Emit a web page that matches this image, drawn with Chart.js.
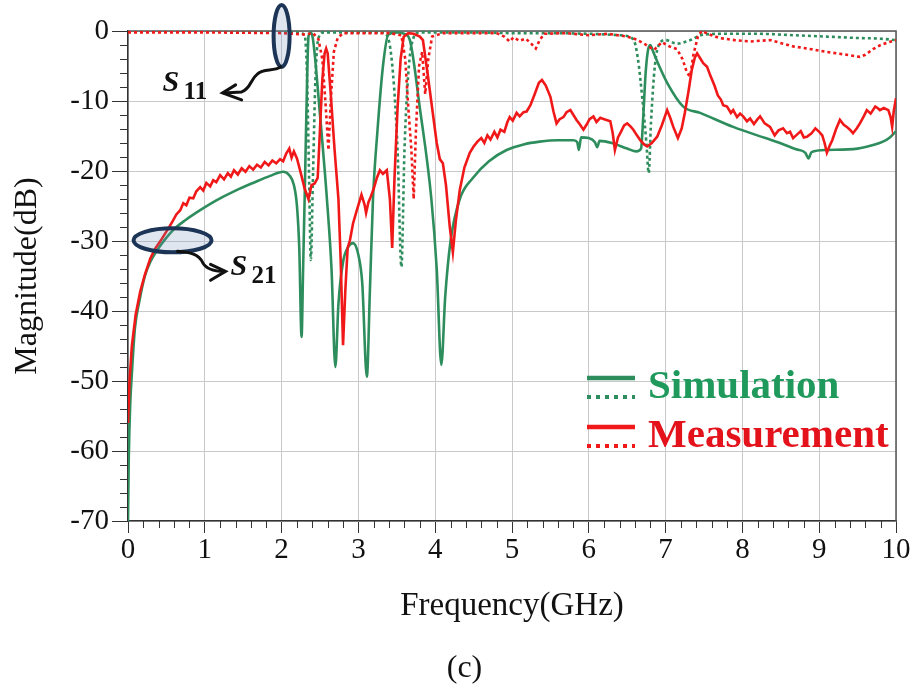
<!DOCTYPE html>
<html>
<head>
<meta charset="utf-8">
<script src="https://cdn.jsdelivr.net/npm/chart.js@4.4.1/dist/chart.umd.min.js"></script>
<style>
  html, body { margin: 0; padding: 0; background: #fff; }
  #wrap { position: relative; width: 917px; height: 696px; }
  #caption { position: absolute; left: 0; width: 929px; top: 648px; line-height: 32px;
             text-align: center; font: 32px "Liberation Serif", serif; color: #111; }
</style>
</head>
<body>
<div id="wrap">
  <canvas id="grafico"></canvas>
  <div id="caption">(c)</div>
</div>
<script>
// ---- data (GHz / dB) ----
const xTicks = [0, 1, 2, 3, 4, 5, 6, 7, 8, 9, 10];
const yTicks = [0, -10, -20, -30, -40, -50, -60, -70];

// S21 simulation (green solid)
const s21SimFreq = [0, 0.01, 0.03, 0.05, 0.09, 0.15, 0.22, 0.29, 0.38, 0.48, 0.6, 0.75, 0.94, 1.15, 1.4, 1.65, 1.85, 2.02,
  2.1, 2.16, 2.2, 2.23, 2.26, 2.28, 2.3, 2.33, 2.35, 2.38, 2.41, 2.5, 2.59, 2.65, 2.7, 2.74, 2.8, 2.87, 2.93, 3.0, 3.05,
  3.11, 3.15, 3.19, 3.25, 3.32, 3.39, 3.5, 3.6, 3.67, 3.8, 3.95, 4.02, 4.08, 4.13, 4.2, 4.32, 4.49, 4.7, 4.93, 5.15,
  5.36, 5.6, 5.8, 5.85, 5.87, 5.9, 6.0, 6.08, 6.11, 6.14, 6.3, 6.5, 6.62, 6.68, 6.71, 6.74, 6.77, 6.8, 6.84, 6.9, 7.02,
  7.23, 7.45, 7.88, 8.3, 8.49, 8.7, 8.82, 8.86, 8.9, 9.1, 9.5, 9.7, 9.83, 9.92, 10];
const s21SimDb = [-70, -61, -53, -49, -42.5, -38.5, -35, -33, -31.3, -29.8, -28.3, -27, -25.6, -24.2, -22.8, -21.6, -20.7, -20.1,
  -20.6, -22, -25, -31, -43.7, -34, -24, -8, -0.8, -0.2, -1.3, -12, -24, -34, -48, -39, -33, -30.8, -30.3, -32, -36,
  -49.4, -37, -24, -14, -5, -0.5, -0.2, -0.4, -1.3, -11, -24, -34, -47.7, -38, -30, -24, -21, -18.6, -17, -16.2,
  -15.8, -15.6, -15.6, -15.9, -17, -15.2, -15.3, -15.9, -16.6, -15.7, -16, -16.8, -17.2, -16.8, -12, -6, -2.8, -2, -3, -4.6, -7.4,
  -10.8, -11.7, -13.7, -15.3, -16, -16.9, -17.4, -18.2, -17.3, -17, -16.8, -16.3, -15.8, -15.2, -14.3];

// S11 simulation (green dotted)
const s11SimFreq = [0, 1.0, 2.2, 2.3, 2.33, 2.36, 2.38, 2.41, 2.44, 2.48, 2.55, 3.3, 3.38, 3.45, 3.51, 3.56, 3.6, 3.65,
  3.71, 3.8, 4.5, 5.0, 5.5, 6.0, 6.4, 6.58, 6.64, 6.7, 6.75, 6.78, 6.81, 6.86, 6.92, 7.0, 7.15, 7.3, 7.5, 7.8, 8.2,
  8.66, 9.1, 9.5, 9.8, 10];
const s11SimDb = [-0.1, -0.1, -0.2, -0.6, -6, -22, -32.7, -20, -7, -1, -0.2, -0.2, -0.8, -6, -17, -33.7, -17, -6,
  -1.2, -0.2, -0.2, -0.3, -0.3, -0.4, -0.6, -1.2, -4, -10, -16, -20.3, -13, -5, -1.8, -1.3, -1.8, -1.4, -0.5, -0.4, -0.4,
  -0.6, -0.8, -1, -1.1, -1.3];

// S21 measurement (red solid)
const s21MedFreq = [0, 0.02, 0.05, 0.1, 0.16, 0.22, 0.29, 0.36, 0.44, 0.52, 0.58, 0.63, 0.68, 0.72, 0.76, 0.8, 0.85, 0.89,
  0.94, 0.98, 1.02, 1.07, 1.11, 1.15, 1.2, 1.25, 1.3, 1.34, 1.38, 1.43, 1.48, 1.53, 1.58, 1.63, 1.68, 1.73, 1.78, 1.83,
  1.88, 1.93, 1.98, 2.02, 2.06, 2.1, 2.13, 2.16, 2.2, 2.25, 2.3, 2.35, 2.39, 2.43, 2.47, 2.5, 2.53, 2.56, 2.58, 2.6,
  2.64, 2.69, 2.74, 2.77, 2.8, 2.83, 2.86, 2.89, 2.93, 2.98, 3.04, 3.08, 3.1, 3.13, 3.16, 3.2, 3.24, 3.28, 3.32, 3.37,
  3.41, 3.44, 3.47, 3.51, 3.55, 3.59, 3.65, 3.72, 3.8, 3.84, 3.9, 3.96, 4.02, 4.06, 4.1, 4.14, 4.19, 4.23, 4.27, 4.32,
  4.38, 4.45, 4.5, 4.55, 4.6, 4.64, 4.68, 4.72, 4.77, 4.81, 4.85, 4.9, 4.94, 4.97, 5.01, 5.06, 5.1, 5.15, 5.19, 5.24,
  5.3, 5.35, 5.39, 5.44, 5.5, 5.54, 5.58, 5.62, 5.67, 5.71, 5.76, 5.8, 5.84, 5.88, 5.93, 5.97, 6.01, 6.06, 6.1, 6.15,
  6.2, 6.28, 6.31, 6.34, 6.38, 6.41, 6.46, 6.5, 6.54, 6.58, 6.62, 6.67, 6.72, 6.76, 6.82, 6.89, 6.95, 7.02, 7.06, 7.1,
  7.16, 7.21, 7.25, 7.3, 7.34, 7.38, 7.41, 7.45, 7.49, 7.54, 7.58, 7.64, 7.68, 7.72, 7.75, 7.8, 7.85, 7.88, 7.93, 7.97,
  8.01, 8.06, 8.1, 8.15, 8.19, 8.23, 8.29, 8.36, 8.42, 8.47, 8.53, 8.58, 8.62, 8.66, 8.71, 8.76, 8.8, 8.84, 8.9, 8.95,
  9.0, 9.04, 9.07, 9.1, 9.14, 9.17, 9.22, 9.27, 9.32, 9.36, 9.4, 9.44, 9.49, 9.53, 9.58, 9.62, 9.67, 9.73, 9.76, 9.79,
  9.84, 9.9, 9.93, 9.95, 9.97, 10];
const s21MedDb = [-56, -50, -45, -40.5, -37.2, -34.8, -32.5, -31, -29.7, -28.3, -27.2, -26.2, -25.6, -24.6, -24.9, -23.8, -23.9, -22.9,
  -22.3, -22.8, -21.7, -22.2, -21.3, -21.6, -20.6, -21.2, -20.3, -20.8, -19.9, -20.5, -19.6, -20.1, -19.3, -19.8, -19.1, -19.5, -18.7, -19.2,
  -18.5, -18.9, -18.3, -18.6, -17.5, -16.8, -18.1, -17.2, -18.2, -20.3, -22.5, -24, -22, -21.8, -21, -14, -7, -3.2, -2.5, -3.2,
  -9, -17, -24, -33, -44.9, -37, -31, -29.9, -27.5, -25.6, -23.4, -24.8, -26, -24.5, -23.7, -22.5, -21, -19.9, -20.4, -19.9,
  -24, -31, -21, -11, -4, -0.8, -0.3, -0.4, -0.8, -1.3, -6, -11, -16, -18.3, -18.9, -22, -28, -31.6, -27, -22.7,
  -19.5, -17.4, -16.5, -15.8, -15.3, -16, -14.9, -15.5, -14.4, -15.2, -14.1, -14.4, -13, -12.3, -12.8, -11.7, -12.2, -11.6, -11.5, -10.6,
  -8.9, -7.4, -7, -7.8, -9.4, -11.5, -13.2, -12.6, -12.3, -11.6, -11.3, -12, -12.7, -13.3, -14.1, -13.4, -12.6, -12.2, -13, -12.4,
  -12.6, -12.9, -14.5, -17, -15.2, -14.6, -13.5, -13.2, -13.6, -14.1, -14.8, -15.6, -16.2, -16.5, -16, -15.1, -13.5, -11.3, -12.4, -13.7,
  -15.3, -13.9, -11.7, -8.5, -5.6, -3.8, -3.2, -3.9, -4.6, -5.1, -6.3, -7.9, -9.2, -9.8, -10.6, -10.8, -11.7, -11.3, -12.3, -11.8,
  -12.2, -12.9, -12.5, -13.3, -12.7, -12.2, -13.2, -13.7, -14.9, -14.2, -13.9, -14.6, -14.4, -15.3, -14.8, -14.3, -15.2, -15.1, -14.6, -13.9,
  -14.4, -14.9, -16, -17.4, -16.3, -15.6, -14, -12.7, -13.4, -13.7, -14.1, -14.6, -13.9, -13.2, -12.2, -11.3, -11.8, -10.8, -11, -11.3,
  -11, -11.3, -12.3, -13.7, -11.5, -9.6];

// S11 measurement (red dotted)
const s11MedFreq = [0, 1.0, 2.0, 2.3, 2.41, 2.48, 2.53, 2.57, 2.61, 2.64, 2.68, 2.73, 2.8, 3.4, 3.56, 3.61, 3.65, 3.69,
  3.72, 3.75, 3.79, 3.83, 3.87, 3.91, 3.96, 4.1, 4.8, 4.9, 4.97, 5.02, 5.1, 5.18, 5.25, 5.31, 5.36, 5.42, 5.7, 6.0,
  6.25, 6.5, 6.62, 6.72, 6.85, 6.95, 7.05, 7.15, 7.22, 7.28, 7.32, 7.36, 7.42, 7.47, 7.55, 7.7, 7.9, 8.1, 8.36, 8.66,
  8.9, 9.1, 9.3, 9.53, 9.6, 9.7, 9.8, 9.9, 10];
const s11MedDb = [-0.2, -0.2, -0.3, -0.5, -0.3, -1.2, -4, -10, -17, -10, -3, -1, -0.3, -0.3, -0.6, -4, -11, -17,
  -24, -14, -5, -3, -9, -4, -0.8, -0.3, -0.3, -0.8, -1.5, -0.9, -1.4, -1.1, -1.8, -2.5, -1.3, -0.4, -0.3, -0.6,
  -0.4, -0.8, -1.2, -1.8, -2.7, -1.6, -2.2, -2.6, -4, -6, -6.5, -3.5, -0.8, 0, -0.4, -1, -1.3, -1.5, -1.3, -2.2,
  -2.6, -3, -3.3, -3.7, -3.4, -2.6, -2, -1.6, -1.3];

// ---- styles ----
const colorSim = '#2e8d5c';
const colorMed = '#f01818';
const serif = '"Liberation Serif", "Times New Roman", serif';

function puntos(frec, db) {
  return frec.map((f, i) => ({ x: f, y: db[i] }));
}

// frame on top and right of the plot area
const marco = {
  id: 'marco',
  beforeDatasetsDraw(chart) {
    const { ctx, chartArea: a } = chart;
    ctx.save();
    ctx.strokeStyle = '#555';
    ctx.lineWidth = 1.5;
    ctx.beginPath();
    ctx.moveTo(a.left, a.top);
    ctx.lineTo(a.right, a.top);
    ctx.lineTo(a.right, a.bottom);
    ctx.stroke();
    ctx.restore();
  }
};

// minor ticks: every 0.2 GHz and every 2 dB
const ticksMenores = {
  id: 'ticksMenores',
  afterDraw(chart) {
    const { ctx, chartArea: a, scales: { x, y } } = chart;
    ctx.save();
    ctx.strokeStyle = '#333';
    ctx.lineWidth = 1;
    ctx.beginPath();
    for (let k = 0; k <= 50; k++) {
      if (k % 5 === 0) continue;
      const px = Math.round(x.getPixelForValue(k * 0.2)) + 0.5;
      ctx.moveTo(px, a.bottom);
      ctx.lineTo(px, a.bottom + 7);
    }
    for (let d = -70; d <= 0; d += 2) {
      if (d % 10 === 0) continue;
      const py = Math.round(y.getPixelForValue(d)) + 0.5;
      ctx.moveTo(a.left - 8, py);
      ctx.lineTo(a.left, py);
    }
    ctx.stroke();
    ctx.restore();
  }
};

// S11 / S21 callouts (ellipse + arrow + label)
const anotaciones = {
  id: 'anotaciones',
  afterDatasetsDraw(chart) {
    const { ctx, scales: { x, y } } = chart;
    ctx.save();

    function elipse(cx, cy, rx, ry) {
      ctx.beginPath();
      ctx.ellipse(cx, cy, rx, ry, 0, 0, Math.PI * 2);
      ctx.fillStyle = 'rgba(110,140,180,0.22)';
      ctx.fill();
      ctx.strokeStyle = '#1c3556';
      ctx.lineWidth = 4;
      ctx.stroke();
    }
    function etiqueta(px, py, sub) {
      ctx.fillStyle = '#111';
      ctx.textBaseline = 'alphabetic';
      ctx.textAlign = 'left';
      ctx.font = 'italic bold 30px ' + serif;
      ctx.fillText('S', px, py);
      ctx.font = 'bold 25px ' + serif;
      ctx.fillText(sub, px + 21, py + 8);
    }

    // S11
    const ax = x.getPixelForValue(2.0), ay = y.getPixelForValue(-0.7);
    elipse(ax, ay, 8, 31);
    ctx.strokeStyle = '#111';
    ctx.lineWidth = 3;
    ctx.lineCap = 'round';
    ctx.beginPath();
    ctx.moveTo(ax - 1, ay + 31);
    ctx.bezierCurveTo(ax - 8, ay + 36, ax - 18, ay + 32, ax - 24, ay + 38);
    ctx.bezierCurveTo(ax - 32, ay + 44, ax - 30, ay + 52, ax - 40, ay + 56);
    ctx.lineTo(ax - 58, ay + 57);
    ctx.stroke();
    ctx.beginPath();
    ctx.moveTo(ax - 46, ay + 49);
    ctx.lineTo(ax - 59, ay + 57);
    ctx.lineTo(ax - 40, ay + 64);
    ctx.stroke();
    etiqueta(ax - 119, ay + 55, '11');

    // S21
    const bx = x.getPixelForValue(0.58), by = y.getPixelForValue(-29.9);
    elipse(bx, by, 39, 12);
    ctx.strokeStyle = '#111';
    ctx.lineWidth = 3;
    ctx.beginPath();
    ctx.moveTo(bx + 5, by + 11);
    ctx.bezierCurveTo(bx + 18, by + 12, bx + 26, by + 14, bx + 30, by + 22);
    ctx.bezierCurveTo(bx + 33, by + 28, bx + 40, by + 31, bx + 52, by + 31);
    ctx.stroke();
    ctx.beginPath();
    ctx.moveTo(bx + 38, by + 24);
    ctx.lineTo(bx + 53, by + 31);
    ctx.lineTo(bx + 38, by + 40);
    ctx.stroke();
    etiqueta(bx + 58, by + 35, '21');

    ctx.restore();
  }
};

// two-line legend (solid = S21, dotted = S11)
const leyenda = {
  id: 'leyenda',
  afterDraw(chart) {
    const { ctx, chartArea: a } = chart;
    const items = [
      { texto: 'Simulation', linea: colorSim, color: '#1f9a5c', y: a.top + 347 },
      { texto: 'Measurement', linea: colorMed, color: '#e3121b', y: a.top + 396 }
    ];
    const x0 = a.left + 459, x1 = a.left + 507;
    ctx.save();
    items.forEach(it => {
      ctx.strokeStyle = it.linea;
      ctx.lineWidth = 4.5;
      ctx.setLineDash([]);
      ctx.beginPath();
      ctx.moveTo(x0, it.y);
      ctx.lineTo(x1, it.y);
      ctx.stroke();
      ctx.lineWidth = 4;
      ctx.setLineDash([4, 5]);
      ctx.beginPath();
      ctx.moveTo(x0, it.y + 19);
      ctx.lineTo(x1, it.y + 19);
      ctx.stroke();
      ctx.setLineDash([]);
      ctx.fillStyle = it.color;
      ctx.font = 'bold 41px ' + serif;
      ctx.textBaseline = 'alphabetic';
      ctx.textAlign = 'left';
      ctx.fillText(it.texto, x1 + 13, it.y + 20);
    });
    ctx.restore();
  }
};

const ctx = document.getElementById('grafico').getContext('2d');

const chart = new Chart(ctx, {
  type: 'line',
  data: {
    datasets: [
      { label: 'S21 medido', data: puntos(s21MedFreq, s21MedDb), borderColor: colorMed,
        borderWidth: 2.6, tension: 0 },
      { label: 'S11 medido', data: puntos(s11MedFreq, s11MedDb), borderColor: colorMed,
        borderWidth: 2.6, borderDash: [3, 3], tension: 0 },
      { label: 'S21 simulado', data: puntos(s21SimFreq, s21SimDb), borderColor: colorSim,
        borderWidth: 2.6, cubicInterpolationMode: 'monotone' },
      { label: 'S11 simulado', data: puntos(s11SimFreq, s11SimDb), borderColor: colorSim,
        borderWidth: 2.6, borderDash: [3, 3], cubicInterpolationMode: 'monotone' }
    ]
  },
  options: {
    responsive: true,
    maintainAspectRatio: false,
    animation: false,
    layout: { padding: { top: 31, right: 21, left: 0, bottom: 0 } },
    elements: { point: { radius: 0 } },
    plugins: {
      legend: { display: false },
      tooltip: { enabled: false }
    },
    scales: {
      x: {
        type: 'linear',
        min: xTicks[0],
        max: xTicks[xTicks.length - 1],
        afterBuildTicks(scale) { scale.ticks = xTicks.map(v => ({ value: v })); },
        afterFit(scale) { scale.height = 175; },
        ticks: { color: '#111', font: { family: serif, size: 29 }, padding: 0, maxRotation: 0, autoSkip: false },
        grid: { color: '#c9c9c9', lineWidth: 1, tickLength: 12, tickColor: '#333' },
        border: { color: '#333', width: 1.5 },
        title: { display: true, text: 'Frequency(GHz)', color: '#111',
                 font: { family: serif, size: 33 }, padding: { bottom: 70 } }
      },
      y: {
        min: yTicks[yTicks.length - 1],
        max: yTicks[0],
        afterBuildTicks(scale) { scale.ticks = yTicks.slice().reverse().map(v => ({ value: v })); },
        afterFit(scale) { scale.width = 128; },
        ticks: { color: '#111', font: { family: serif, size: 29 }, padding: 3 },
        grid: { color: '#c9c9c9', lineWidth: 1, tickLength: 16, tickColor: '#333' },
        border: { color: '#333', width: 1.5 },
        title: { display: true, text: 'Magnitude(dB)', color: '#111',
                 font: { family: serif, size: 32 }, padding: { top: 8 } }
      }
    }
  },
  plugins: [marco, ticksMenores, anotaciones, leyenda]
});
</script>
</body>
</html>
